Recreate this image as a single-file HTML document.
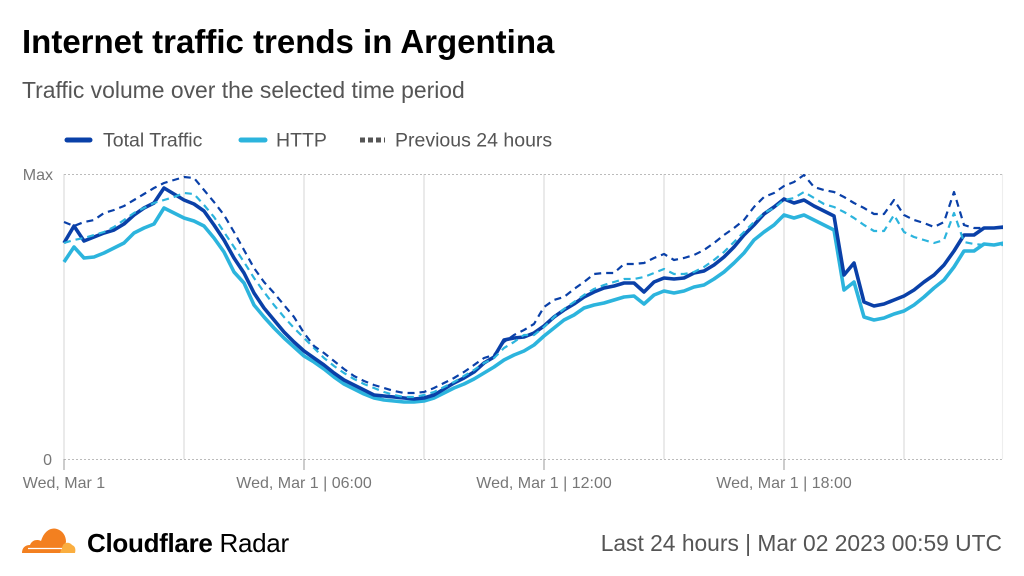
<!DOCTYPE html>
<html><head><meta charset="utf-8"><style>
html,body{margin:0;padding:0;background:#fff;}
body{width:1024px;height:576px;overflow:hidden;}
svg{display:block;}
</style></head><body>
<svg width="1024" height="576" viewBox="0 0 1024 576" xmlns="http://www.w3.org/2000/svg">
<rect width="1024" height="576" fill="#fff"/>
<text x="22" y="53" font-family="Liberation Sans, Arial, sans-serif" font-weight="bold" font-size="33" fill="#000">Internet traffic trends in Argentina</text>
<text x="22" y="98" font-family="Liberation Sans, Arial, sans-serif" font-size="22.9" fill="#555">Traffic volume over the selected time period</text>
<!-- legend -->
<line x1="67" y1="140" x2="90" y2="140" stroke="#0a40a8" stroke-width="5" stroke-linecap="round"/>
<text x="103" y="146.5" font-family="Liberation Sans, Arial, sans-serif" font-size="19.5" fill="#555">Total Traffic</text>
<line x1="241" y1="140" x2="265" y2="140" stroke="#2cb4dd" stroke-width="5" stroke-linecap="round"/>
<text x="276" y="146.5" font-family="Liberation Sans, Arial, sans-serif" font-size="19.5" fill="#555">HTTP</text>
<line x1="360" y1="140" x2="385" y2="140" stroke="#555" stroke-width="5" stroke-dasharray="5,3" />
<text x="395" y="146.5" font-family="Liberation Sans, Arial, sans-serif" font-size="19.5" fill="#555">Previous 24 hours</text>
<!-- grid -->
<g stroke="#dcdcdc" stroke-width="1.2">
<line x1="64" y1="174" x2="64" y2="459"/>
<line x1="184" y1="174" x2="184" y2="459"/>
<line x1="304" y1="174" x2="304" y2="459"/>
<line x1="424" y1="174" x2="424" y2="459"/>
<line x1="544" y1="174" x2="544" y2="459"/>
<line x1="664" y1="174" x2="664" y2="459"/>
<line x1="784" y1="174" x2="784" y2="459"/>
<line x1="904" y1="174" x2="904" y2="459"/>
<line x1="1002.5" y1="174" x2="1002.5" y2="459" stroke="#eee"/>
</g>
<g stroke="#bbb" stroke-width="1" stroke-dasharray="2,2">
<line x1="64" y1="174.5" x2="1003" y2="174.5"/>
<line x1="64" y1="459.5" x2="1003" y2="459.5"/>
</g>
<g stroke="#aaa" stroke-width="1.2">
<line x1="64" y1="459" x2="64" y2="470"/>
<line x1="304" y1="459" x2="304" y2="470"/>
<line x1="544" y1="459" x2="544" y2="470"/>
<line x1="784" y1="459" x2="784" y2="470"/>
</g>
<g font-family="Liberation Sans, Arial, sans-serif" font-size="16" fill="#777">
<text x="53" y="180" text-anchor="end">Max</text>
<text x="52" y="465" text-anchor="end">0</text>
<text x="64" y="488" text-anchor="middle">Wed, Mar 1</text>
<text x="304" y="488" text-anchor="middle">Wed, Mar 1 | 06:00</text>
<text x="544" y="488" text-anchor="middle">Wed, Mar 1 | 12:00</text>
<text x="784" y="488" text-anchor="middle">Wed, Mar 1 | 18:00</text>
</g>
<defs><clipPath id="c"><rect x="60" y="160" width="943" height="310"/></clipPath></defs>
<g clip-path="url(#c)" fill="none" stroke-linejoin="round">
<polyline id="h" stroke="#2cb4dd" stroke-width="3.6" points=""/>
<polyline id="t" stroke="#0a40a8" stroke-width="3.6" points=""/>
<polyline id="ph" stroke="#2cb4dd" stroke-width="2.2" stroke-dasharray="7,5" points=""/>
<polyline id="pt" stroke="#0a40a8" stroke-width="2.2" stroke-dasharray="7,5" points=""/>
</g>
<!-- logo -->
<path d="M22 553 C22 548 25 545 30 545 C32 540 37 539 41 541 C44 531 51 527 57 529 C63 531 66 536 66 542 L62 553 Z" fill="#f38020"/>
<path d="M60 553 L63 545 C65 542 70 542 72 545 C75 546 76 549 75 553 Z" fill="#faae40"/>
<path d="M28 548.5 L62 548.5" stroke="#fff" stroke-width="1.2"/>
<text x="87" y="552" font-family="Liberation Sans, Arial, sans-serif" font-size="26" fill="#000" letter-spacing="-0.3"><tspan font-weight="bold">Cloudflare</tspan> Radar</text>
<text x="1002" y="551" text-anchor="end" font-family="Liberation Sans, Arial, sans-serif" font-size="22.8" fill="#555">Last 24 hours | Mar 02 2023 00:59 UTC</text>
</svg>
<script>
var T=[243,226,241,237,233,230,224,215,208,203,188,194,200,204,211,225,240,258,273,293,308,320,332,342,351,358,365,373,380,385,390,395,396,397,398,399,398,395,389,383,378,372,363,357,340,338,337,333,326,317,310,304,297,292,288,286,283,283,292,282,278,279,278,273,271,265,257,247,235,225,214,207,199,203,200,206,211,216,275,263,302,306,304,300,296,290,282,275,265,251,235,235,228,228,227];
var H=[262,247,258,257,253,248,243,233,228,224,208,213,218,221,226,238,252,272,283,305,317,328,338,347,356,362,369,377,384,389,394,398,400,401,402,402,401,398,393,388,384,379,373,367,360,355,351,345,336,328,320,315,308,305,303,300,297,296,304,295,291,293,291,287,285,279,272,263,253,240,232,225,215,218,215,220,225,230,290,282,317,320,318,314,311,305,297,288,280,267,251,251,244,245,243];
var PT=[222,226,222,220,213,210,206,200,194,188,183,180,177,178,190,202,215,232,250,268,282,293,305,317,333,346,353,361,369,376,381,385,388,391,393,393,392,388,383,378,372,365,358,355,342,335,330,324,307,300,297,289,282,274,273,273,264,264,263,258,254,260,258,255,250,243,235,228,220,207,197,193,186,182,175,187,190,192,197,203,208,214,214,200,215,220,223,227,222,192,225,228,228,228,228];
var PH=[243,240,238,235,232,227,220,213,208,203,200,197,193,194,205,217,232,247,262,278,292,305,317,328,338,348,358,366,373,379,384,388,392,395,397,397,395,392,387,382,376,370,363,358,348,342,335,335,327,317,309,302,295,289,285,282,279,279,277,273,269,274,274,272,267,260,252,242,232,222,213,208,200,198,192,198,204,207,212,218,225,231,231,215,232,237,240,243,240,213,242,244,245,245,245];
function pts(a){return a.map(function(y,i){return (64+i*10)+","+y;}).join(" ");}
document.getElementById("t").setAttribute("points",pts(T));
document.getElementById("h").setAttribute("points",pts(H));
document.getElementById("pt").setAttribute("points",pts(PT));
document.getElementById("ph").setAttribute("points",pts(PH));
</script>
</body></html>
